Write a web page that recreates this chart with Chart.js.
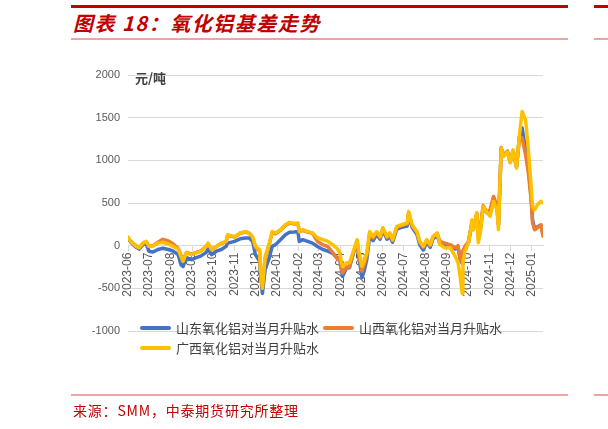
<!DOCTYPE html>
<html>
<head>
<meta charset="utf-8">
<script src="https://cdn.jsdelivr.net/npm/chart.js@4.4.1/dist/chart.umd.min.js"></script>
<style>
  html, body { margin: 0; padding: 0; background: #fff; }
  body { width: 608px; height: 429px; position: relative; overflow: hidden; font-family: "Noto Sans CJK SC", sans-serif; }
  .bar { position: absolute; }
  #titulo { position: absolute; left: 73px; top: 8px; font-size: 20px; font-weight: bold; font-style: italic; color: #c00000; white-space: nowrap; letter-spacing: 1.5px; }
  #fuente { position: absolute; left: 73px; top: 400px; font-size: 14px; color: #c00000; white-space: nowrap; letter-spacing: 0.8px; }
  #unidad { position: absolute; left: 135px; top: 68px; font-size: 13px; font-weight: bold; color: #404040; }
  #caja { position: absolute; left: 0; top: 0; width: 608px; height: 429px; }
  .ley { position: absolute; font-size: 13px; color: #404040; white-space: nowrap; line-height: 16px; }
  .ley i { display: inline-block; width: 31px; height: 4px; vertical-align: middle; margin-right: 5px; position: relative; top: -1px; border-radius: 2px; }
</style>
</head>
<body>
<div class="bar" style="left:71px;top:5px;width:497px;height:3px;background:#c00000"></div>
<div class="bar" style="left:594px;top:5px;width:14px;height:3px;background:#c00000"></div>
<div id="titulo">图表 18：氧化铝基差走势</div>
<div class="bar" style="left:71px;top:38px;width:497px;height:2px;background:#eba4a4"></div>
<div class="bar" style="left:594px;top:38px;width:14px;height:2px;background:#eba4a4"></div>

<div id="caja"><canvas id="grafica"></canvas></div>
<div id="unidad">元/吨</div>
<div class="ley" style="left:140px;top:320px"><i style="background:#4472c4"></i>山东氧化铝对当月升贴水</div>
<div class="ley" style="left:323px;top:320px"><i style="background:#ed7d31"></i>山西氧化铝对当月升贴水</div>
<div class="ley" style="left:140px;top:340px"><i style="background:#ffc000"></i>广西氧化铝对当月升贴水</div>

<div class="bar" style="left:71px;top:394px;width:497px;height:2px;background:#eba4a4"></div>
<div class="bar" style="left:594px;top:394px;width:14px;height:2px;background:#eba4a4"></div>
<div id="fuente">来源：SMM，中泰期货研究所整理</div>

<script>
// Fechas de las observaciones
const fechas = [
  '2023-06-01','2023-06-05','2023-06-13','2023-06-17','2023-06-23','2023-06-27','2023-07-01','2023-07-07','2023-07-14','2023-07-21',
  '2023-07-29','2023-08-05','2023-08-12','2023-08-16','2023-08-19','2023-08-24','2023-08-31','2023-09-07','2023-09-14','2023-09-21',
  '2023-09-24','2023-09-29','2023-10-06','2023-10-13','2023-10-20','2023-10-22','2023-11-01','2023-11-09','2023-11-17','2023-11-22',
  '2023-11-27','2023-12-01','2023-12-07','2023-12-08','2023-12-11','2023-12-15','2023-12-21','2023-12-25','2023-12-30','2024-01-06',
  '2024-01-13','2024-01-19','2024-01-26','2024-01-31','2024-02-02','2024-02-07','2024-02-14','2024-02-21','2024-02-28','2024-03-07',
  '2024-03-14','2024-03-21','2024-03-28','2024-03-31','2024-04-04','2024-04-10','2024-04-14','2024-04-19','2024-04-25','2024-04-27',
  '2024-05-02','2024-05-05','2024-05-09','2024-05-13','2024-05-18','2024-05-23','2024-05-28','2024-06-01','2024-06-07','2024-06-11',
  '2024-06-15','2024-06-21','2024-06-28','2024-07-06','2024-07-08','2024-07-13','2024-07-20','2024-07-24','2024-07-29','2024-08-03',
  '2024-08-08','2024-08-12','2024-08-18','2024-08-22','2024-08-29','2024-09-06','2024-09-13','2024-09-17','2024-09-20','2024-09-23',
  '2024-09-24','2024-09-27','2024-10-02','2024-10-07','2024-10-09','2024-10-14','2024-10-16','2024-10-19','2024-10-23','2024-10-29',
  '2024-11-02','2024-11-07','2024-11-12','2024-11-14','2024-11-18','2024-11-21','2024-11-27','2024-12-01','2024-12-05','2024-12-10',
  '2024-12-14','2024-12-18','2024-12-23','2024-12-27','2024-12-31','2025-01-02','2025-01-05','2025-01-09','2025-01-14','2025-01-17'
];

// 山东 (azul)
const shandong = [
  90, 40, -20, -40, 15, 25, -65, -75, -45, -30,
  -45, -65, -105, -222, -245, -140, -164, -140, -120, -82,
  -40, -105, -65, -45, -8, 30, 50, 80, 90, 90,
  50, -105, -183, -300, -560, -280, -140, -8, 12, 70,
  128, 156, 160, 165, 50, 70, 50, 30, -10, -45,
  -65, -90, -150, -150, -360, -260, -260, -110, 50, -100,
  -375, -300, -160, 110, 60, 130, 75, 180, 75, 110,
  40, 195, 215, 230, 370, 215, 130, 10, -50, 40,
  -20, 80, 120, 20, 20, 0, -40, -20, -160, -210,
  -80, -20, 40, 270, 190, 370, 100, 180, 450, 380,
  400, 560, 440, 240, 1140, 1050, 1100, 980, 1110, 920,
  1270, 1380, 1123, 928, 560, 300, 200, 220, 240, 130
];

// 山西 (naranja)
const shanxi = [
  95, 50, -5, -20, 30, 45, -5, 0, 40, 74,
  55, 20, -30, -115, -170, -80, -100, -80, -60, -10,
  25, -50, -10, 25, 45, 120, 100, 145, 160, 145,
  100, -20, -60, -250, -480, -150, 20, 150, 140, 180,
  235, 265, 255, 260, 160, 180, 160, 145, 50, 10,
  -10, -80, -160, -140, -320, -250, -250, -100, 60, -80,
  -300, -230, -120, 150, 90, 155, 95, 200, 95, 140,
  60, 215, 235, 255, 390, 235, 150, 40, -20, 60,
  0, 100, 140, 50, 30, 10, -25, 0, -150, -200,
  -60, -8, 50, 265, 200, 380, 120, 200, 470, 390,
  420, 577, 460, 250, 1150, 1060, 1110, 990, 1110, 930,
  1250, 1263, 1065, 850, 538, 265, 187, 210, 245, 110
];

// 广西 (amarillo)
const guangxi = [
  100, 50, -8, -25, 35, 50, -8, -5, 30, 40,
  20, -10, -40, -125, -183, -82, -105, -82, -66, -8,
  30, -45, -8, 30, 50, 128, 106, 150, 165, 150,
  106, -8, -45, -242, -500, -125, 30, 165, 150, 187,
  245, 273, 260, 266, 165, 187, 165, 150, 93, 70,
  50, 12, -40, -82, -242, -200, -200, -82, 70, -45,
  -242, -180, -82, 165, 106, 165, 106, 210, 106, 150,
  70, 226, 245, 266, 400, 245, 165, 50, -8, 70,
  12, 106, 150, 12, -25, -25, -125, -200, -360, -560,
  -200, -60, 35, 304, 187, 385, 35, 150, 460, 385,
  343, 518, 420, 187, 1143, 1045, 1100, 970, 1123, 908,
  1280, 1572, 1474, 1123, 694, 460, 420, 480, 520, 500
];

// Etiquetas del eje x (inicio de cada mes)
const meses = [
  '2023-06','2023-07','2023-08','2023-09','2023-10','2023-11','2023-12',
  '2024-01','2024-02','2024-03','2024-04','2024-05','2024-06','2024-07',
  '2024-08','2024-09','2024-10','2024-11','2024-12','2025-01'
];
const ticksY = [-1000, -500, 0, 500, 1000, 1500, 2000];

// Dias desde la primera fecha
const base = Date.UTC(2023, 5, 1);
function dias(txt) {
  let p = txt.split('-').map(Number);
  return Math.round((Date.UTC(p[0], p[1] - 1, p[2] || 1) - base) / 86400000);
}
let diasX = fechas.map(dias);
let diasMes = meses.map(dias);

function serie(valores) {
  return valores.map((v, i) => ({ x: diasX[i], y: v }));
}

let gris = '#595959';
let rejilla = '#d9d9d9';

new Chart(document.getElementById('grafica'), {
  type: 'line',
  data: {
    datasets: [
      { label: '山东氧化铝对当月升贴水', data: serie(shandong), borderColor: '#4472c4', order: 3 },
      { label: '山西氧化铝对当月升贴水', data: serie(shanxi), borderColor: '#ed7d31', order: 2 },
      { label: '广西氧化铝对当月升贴水', data: serie(guangxi), borderColor: '#ffc000', order: 1 }
    ]
  },
  options: {
    responsive: true,
    maintainAspectRatio: false,
    animation: false,
    events: [],
    elements: {
      line: { borderWidth: 3.5, tension: 0, borderJoinStyle: 'round', borderCapStyle: 'round' },
      point: { radius: 0 }
    },
    layout: { padding: { left: 80, top: 75, right: 65, bottom: 98 } },
    scales: {
      x: {
        type: 'linear',
        position: { y: 0 },
        min: 0,
        max: diasX[diasX.length - 1],
        afterBuildTicks: (s) => { s.ticks = diasMes.map(v => ({ value: v })); },
        ticks: {
          autoSkip: false,
          minRotation: 90,
          maxRotation: 90,
          padding: 2,
          color: gris,
          font: { family: 'Liberation Sans', size: 12 },
          callback: (v, i) => meses[i]
        },
        grid: { drawOnChartArea: false, tickLength: 5, color: rejilla },
        border: { display: true, color: rejilla, width: 1 }
      },
      y: {
        min: ticksY[0],
        max: ticksY[ticksY.length - 1],
        afterFit: (s) => { s.width = 48; },
        afterBuildTicks: (s) => { s.ticks = ticksY.map(v => ({ value: v })); },
        ticks: {
          padding: 8,
          color: gris,
          font: { family: 'Liberation Sans', size: 11 },
          callback: (v) => String(v)
        },
        grid: { color: rejilla, drawTicks: false },
        border: { display: false }
      }
    },
    plugins: {
      legend: { display: false },
      tooltip: { enabled: false }
    }
  }
});
</script>
</body>
</html>
